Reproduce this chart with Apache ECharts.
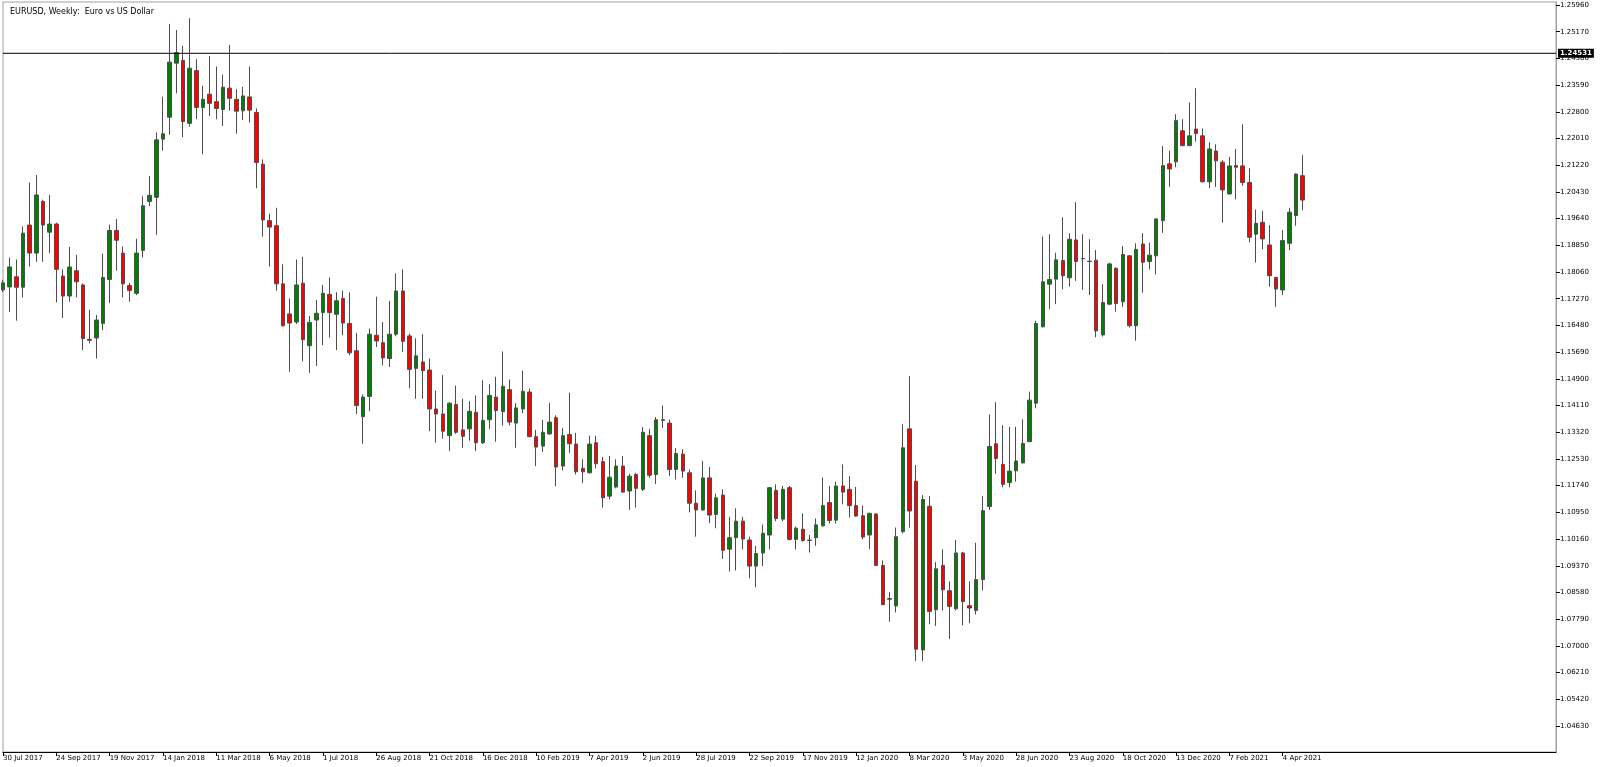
<!DOCTYPE html>
<html>
<head>
<meta charset="utf-8">
<script src="https://cdn.jsdelivr.net/npm/echarts@6/dist/echarts.min.js"></script>
<style>
html,body{margin:0;padding:0;background:#fff;}
#chart{width:1600px;height:767px;}
</style>
</head>
<body>
<div id="chart"></div>
<script>
// weekly candles from 30 Jul 2017, [open, close, low, high]
var candles = [
[1.1753,1.1774,1.1747,1.1783],[1.1762,1.1821,1.1688,1.1849],[1.1792,1.1761,1.1662,1.1843],[1.1761,1.1921,1.1731,1.1941],
[1.1945,1.1862,1.1822,1.2071],[1.1862,1.2034,1.1836,1.2093],[1.2015,1.1945,1.1836,1.2020],[1.1924,1.1948,1.1862,1.2034],
[1.1948,1.1814,1.1716,1.1952],[1.1794,1.1735,1.1670,1.1814],[1.1735,1.1821,1.1718,1.1880],[1.1810,1.1777,1.1731,1.1857],
[1.1768,1.1609,1.1575,1.1772],[1.1607,1.1604,1.1595,1.1694],[1.1611,1.1664,1.1550,1.1679],[1.1654,1.1790,1.1634,1.1860],
[1.1784,1.1929,1.1714,1.1946],[1.1929,1.1900,1.1810,1.1963],[1.1862,1.1771,1.1731,1.1882],[1.1766,1.1751,1.1718,1.1774],
[1.1743,1.1862,1.1738,1.1904],[1.1870,1.2002,1.1849,1.2030],[1.2015,1.2033,1.2001,1.2090],[1.2027,1.2197,1.1916,1.2219],
[1.2199,1.2215,1.2165,1.2325],[1.2264,1.2427,1.2212,1.2540],[1.2424,1.2455,1.2335,1.2522],[1.2432,1.2251,1.2205,1.2475],
[1.2246,1.2409,1.2236,1.2557],[1.2402,1.2293,1.2258,1.2436],[1.2293,1.2317,1.2155,1.2357],[1.2332,1.2305,1.2267,1.2445],
[1.2310,1.2290,1.2258,1.2414],[1.2287,1.2353,1.2238,1.2390],[1.2350,1.2320,1.2283,1.2478],[1.2317,1.2282,1.2215,1.2347],
[1.2283,1.2327,1.2256,1.2354],[1.2324,1.2285,1.2248,1.2414],[1.2278,1.2130,1.2054,1.2290],[1.2125,1.1960,1.1911,1.2139],
[1.1958,1.1939,1.1822,1.1978],[1.1943,1.1771,1.1751,1.1996],[1.1771,1.1647,1.1645,1.1829],[1.1682,1.1655,1.1511,1.1728],
[1.1658,1.1768,1.1652,1.1843],[1.1773,1.1606,1.1542,1.1851],[1.1588,1.1657,1.1508,1.1676],[1.1664,1.1684,1.1528,1.1723],
[1.1686,1.1743,1.1590,1.1768],[1.1740,1.1686,1.1612,1.1790],[1.1681,1.1721,1.1575,1.1746],[1.1728,1.1655,1.1619,1.1751],
[1.1654,1.1567,1.1560,1.1746],[1.1573,1.1411,1.1386,1.1626],[1.1378,1.1436,1.1298,1.1444],[1.1438,1.1622,1.1394,1.1639],
[1.1619,1.1602,1.1584,1.1733],[1.1597,1.1552,1.1530,1.1658],[1.1550,1.1622,1.1525,1.1721],[1.1622,1.1750,1.1616,1.1802],
[1.1750,1.1601,1.1570,1.1814],[1.1617,1.1518,1.1462,1.1624],[1.1521,1.1558,1.1431,1.1610],[1.1540,1.1514,1.1431,1.1622],
[1.1516,1.1401,1.1335,1.1550],[1.1401,1.1386,1.1301,1.1456],[1.1386,1.1335,1.1313,1.1501],[1.1322,1.1418,1.1276,1.1421],
[1.1414,1.1332,1.1327,1.1470],[1.1339,1.1320,1.1286,1.1431],[1.1342,1.1394,1.1307,1.1424],[1.1391,1.1301,1.1276,1.1441],
[1.1301,1.1367,1.1297,1.1486],[1.1369,1.1441,1.1342,1.1474],[1.1436,1.1396,1.1304,1.1496],[1.1393,1.1468,1.1352,1.1571],
[1.1458,1.1362,1.1352,1.1488],[1.1359,1.1404,1.1286,1.1418],[1.1401,1.1453,1.1388,1.1514],[1.1451,1.1319,1.1317,1.1461],
[1.1319,1.1288,1.1232,1.1339],[1.1291,1.1332,1.1274,1.1369],[1.1327,1.1362,1.1325,1.1419],[1.1375,1.1229,1.1172,1.1382],
[1.1232,1.1322,1.1219,1.1345],[1.1325,1.1298,1.1271,1.1449],[1.1297,1.1215,1.1207,1.1330],[1.1225,1.1215,1.1182,1.1252],
[1.1212,1.1297,1.1210,1.1322],[1.1301,1.1239,1.1225,1.1322],[1.1245,1.1138,1.1109,1.1259],[1.1143,1.1199,1.1133,1.1262],
[1.1170,1.1232,1.1166,1.1252],[1.1232,1.1155,1.1153,1.1262],[1.1158,1.1202,1.1102,1.1209],[1.1207,1.1166,1.1109,1.1212],
[1.1163,1.1332,1.1158,1.1347],[1.1322,1.1205,1.1197,1.1342],[1.1207,1.1369,1.1179,1.1377],[1.1369,1.1367,1.1345,1.1411],
[1.1359,1.1222,1.1202,1.1369],[1.1222,1.1269,1.1192,1.1285],[1.1267,1.1217,1.1197,1.1282],[1.1212,1.1122,1.1095,1.1222],
[1.1122,1.1102,1.1023,1.1160],[1.1102,1.1197,1.1100,1.1247],[1.1197,1.1087,1.1063,1.1229],[1.1089,1.1138,1.1048,1.1150],
[1.1146,1.0983,1.0957,1.1163],[1.0986,1.1020,1.0920,1.1082],[1.1020,1.1069,1.0923,1.1107],[1.1069,1.1016,1.0986,1.1082],
[1.1013,1.0936,1.0900,1.1023],[1.0936,1.0973,1.0873,1.0996],[1.0975,1.1033,1.0936,1.1059],[1.1028,1.1168,1.0986,1.1170],
[1.1160,1.1077,1.1069,1.1178],[1.1075,1.1163,1.1069,1.1173],[1.1168,1.1015,1.1012,1.1173],[1.1015,1.1048,1.0985,1.1053],
[1.1045,1.1012,1.1008,1.1092],[1.1013,1.1012,1.0976,1.1028],[1.1020,1.1058,1.0996,1.1077],[1.1055,1.1115,1.1053,1.1198],
[1.1124,1.1071,1.1062,1.1173],[1.1072,1.1173,1.1062,1.1186],[1.1173,1.1155,1.1119,1.1237],[1.1163,1.1115,1.1080,1.1202],
[1.1115,1.1084,1.1082,1.1170],[1.1085,1.1022,1.1015,1.1115],[1.1028,1.1092,1.0986,1.1094],[1.1090,1.0938,1.0936,1.1093],
[1.0938,1.0822,1.0820,1.0953],[1.0840,1.0838,1.0771,1.0859],[1.0818,1.1023,1.0799,1.1050],[1.1038,1.1286,1.1033,1.1355],
[1.1342,1.1099,1.1050,1.1498],[1.1187,1.0690,1.0655,1.1235],[1.0688,1.1133,1.0655,1.1146],[1.1113,1.0802,1.0764,1.1143],
[1.0807,1.0928,1.0759,1.0948],[1.0938,1.0866,1.0805,1.0986],[1.0863,1.0817,1.0720,1.0891],[1.0810,1.0975,1.0805,1.1013],
[1.0975,1.0831,1.0761,1.0978],[1.0819,1.0812,1.0767,1.0891],[1.0805,1.0896,1.0793,1.1005],[1.0896,1.1100,1.0864,1.1143],
[1.1112,1.1290,1.1102,1.1385],[1.1298,1.1254,1.1209,1.1421],[1.1237,1.1178,1.1169,1.1353],[1.1183,1.1217,1.1169,1.1348],
[1.1218,1.1247,1.1186,1.1348],[1.1241,1.1299,1.1241,1.1370],[1.1304,1.1427,1.1304,1.1452],[1.1418,1.1654,1.1403,1.1662],
[1.1644,1.1777,1.1642,1.1911],[1.1770,1.1784,1.1696,1.1918],[1.1785,1.1842,1.1711,1.1863],[1.1840,1.1795,1.1755,1.1968],
[1.1789,1.1903,1.1763,1.1921],[1.1901,1.1837,1.1780,1.2013],[1.1845,1.1846,1.1753,1.1918],[1.1838,1.1837,1.1738,1.1903],
[1.1841,1.1632,1.1613,1.1871],[1.1620,1.1716,1.1615,1.1770],[1.1711,1.1830,1.1708,1.1834],[1.1817,1.1713,1.1689,1.1820],
[1.1718,1.1858,1.1703,1.1883],[1.1854,1.1647,1.1642,1.1856],[1.1647,1.1873,1.1603,1.1891],[1.1889,1.1835,1.1745,1.1921],
[1.1837,1.1856,1.1814,1.1893],[1.1854,1.1963,1.1799,1.1965],[1.1958,1.2121,1.1922,1.2179],[1.2126,1.2111,1.2058,1.2165],
[1.2132,1.2254,1.2116,1.2273],[1.2224,1.2180,1.2178,1.2258],[1.2180,1.2209,1.2178,1.2308],[1.2229,1.2216,1.2192,1.2350],
[1.2209,1.2073,1.2071,1.2231],[1.2073,1.2170,1.2054,1.2190],[1.2164,1.2135,1.2058,1.2184],[1.2131,1.2049,1.1952,1.2137],
[1.2037,1.2120,1.2035,1.2147],[1.2121,1.2116,1.2021,1.2170],[1.2120,1.2071,1.2061,1.2243],[1.2071,1.1909,1.1894,1.2113],
[1.1918,1.1950,1.1834,1.1991],[1.1953,1.1904,1.1873,1.1987],[1.1886,1.1795,1.1763,1.1945],[1.1790,1.1756,1.1703,1.1792],
[1.1753,1.1899,1.1738,1.1930],[1.1891,1.1983,1.1871,1.1996],[1.1973,1.2096,1.1943,1.2098],[1.2091,1.2019,1.1989,1.2152]
];
var startWeek = [2017, 6, 30];   // 30 Jul 2017
var padWeeks = 38;               // empty space to the right of the last bar
var priceTicks = [1.04630,1.05420,1.06210,1.07000,1.07790,1.08580,1.09370,1.10160,1.10950,1.11740,
  1.12530,1.13320,1.14110,1.14900,1.15690,1.16480,1.17270,1.18060,1.18850,1.19640,1.20430,
  1.21220,1.22010,1.22800,1.23590,1.24380,1.25170,1.25960];
var lastPrice = 1.24531;

var months = ['Jan','Feb','Mar','Apr','May','Jun','Jul','Aug','Sep','Oct','Nov','Dec'];
var categories = [];
for (var i = 0; i < candles.length + padWeeks; i++) {
    if (i >= candles.length) { categories.push(''); continue; }
    var d = new Date(Date.UTC(startWeek[0], startWeek[1], startWeek[2] + i * 7));
    categories.push(d.getUTCDate() + ' ' + months[d.getUTCMonth()] + ' ' + d.getUTCFullYear());
}
function everyEighth(idx, val) { return val !== '' && idx % 8 === 0; }

var chart = echarts.init(document.getElementById('chart'));
chart.setOption({
    animation: false,
    backgroundColor: '#fff',
    title: {
        text: 'EURUSD, Weekly:  Euro vs US Dollar',
        left: 5, top: 3,
        textStyle: {fontFamily: 'DejaVu Sans', fontSize: 8, fontWeight: 'normal', color: '#000'}
    },
    grid: {left: 2, right: 44, top: 2, bottom: 15, show: true, borderColor: '#a0a0a0', borderWidth: 1},
    xAxis: {
        type: 'category',
        data: categories,
        boundaryGap: false,
        axisLine: {lineStyle: {color: '#000', width: 1}},
        axisTick: {interval: everyEighth, length: 4, lineStyle: {color: '#000'}},
        axisLabel: {interval: everyEighth, align: 'left', margin: 3, fontFamily: 'DejaVu Sans', fontSize: 7, color: '#000'},
        splitLine: {show: false}
    },
    yAxis: {
        type: 'value',
        position: 'right',
        min: 1.03860,
        max: 1.26049,
        axisLine: {show: true, lineStyle: {color: '#a0a0a0'}},
        axisTick: {show: true, length: 4, customValues: priceTicks, lineStyle: {color: '#000'}},
        axisLabel: {customValues: priceTicks, margin: 4, fontFamily: 'DejaVu Sans', fontSize: 7, color: '#000',
            formatter: function (v) { return v.toFixed(5); }},
        splitLine: {show: false}
    },
    series: [{
        type: 'candlestick',
        data: candles,
        barWidth: 4,
        itemStyle: {
            color: '#008000', color0: '#ff0000',
            borderColor: '#4d4d4d', borderColor0: '#4d4d4d', borderWidth: 1
        }
    }, {
        // current price line
        type: 'line',
        data: [[0, lastPrice], [categories.length - 1, lastPrice]],
        symbol: 'none',
        silent: true,
        lineStyle: {color: '#000', width: 1},
        endLabel: {
            show: true, distance: 2,
            formatter: function () { return lastPrice.toFixed(5); },
            backgroundColor: '#000', color: '#fff', padding: [1, 2],
            fontFamily: 'DejaVu Sans', fontSize: 7, fontWeight: 'bold'
        }
    }]
});
</script>
</body>
</html>
